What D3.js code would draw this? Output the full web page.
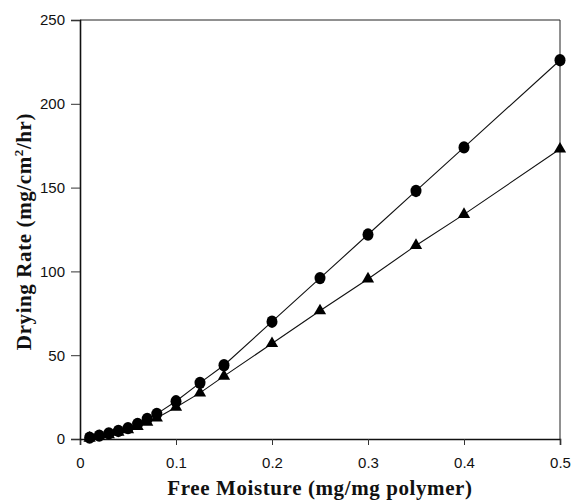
<!DOCTYPE html>
<html>
<head>
<meta charset="utf-8">
<script src="https://cdn.jsdelivr.net/npm/d3@7"></script>
<style>
    body { margin: 0; background: #fff; }
    .tick text { font-family: "Liberation Sans", Arial, sans-serif; font-size: 15px; fill: #111; }
    .title { font-family: "Liberation Serif", "Times New Roman", serif; font-weight: bold; font-size: 21px; letter-spacing: 0.6px; fill: #111; }
</style>
</head>
<body>
<script>
/* Data */
var moisture   = [0.01, 0.02, 0.03, 0.04, 0.05, 0.06, 0.07, 0.08, 0.1, 0.125, 0.15, 0.2, 0.25, 0.3, 0.35, 0.4, 0.5];
var rateCircle = [0.8, 2, 3.3, 4.8, 6.5, 9, 12, 15, 22.5, 33.5, 44, 70, 96, 122, 148, 174, 226];
var rateTri    = [0.5, 1.5, 2.5, 4, 5.5, 7.5, 10, 12.5, 19, 27.5, 37.5, 57, 76.5, 95.5, 115.5, 134, 173];
var xTicks     = [0, 0.1, 0.2, 0.3, 0.4, 0.5];
var yTicks     = [0, 50, 100, 150, 200, 250];

/* Layout */
var width = 574, height = 501,
    margin = {top: 20, right: 14, bottom: 62, left: 80};

var svg = d3.select("body").append("svg")
    .attr("width", width)
    .attr("height", height);

var x = d3.scaleLinear().domain([0, 0.5]).range([margin.left, width - margin.right]);
var y = d3.scaleLinear().domain([0, 250]).range([height - margin.bottom, margin.top]);

// Frame (top & right)
svg.append("path")
    .attr("d", "M" + x(0) + "," + y(250) + "H" + x(0.5) + "V" + y(0))
    .attr("fill", "none")
    .attr("stroke", "#222")
    .attr("stroke-width", 1);

// Axes
var xAxis = svg.append("g")
    .attr("transform", "translate(0," + y(0) + ")")
    .call(d3.axisBottom(x).tickValues(xTicks).tickSize(6).tickPadding(12).tickFormat(d3.format("")));

var yAxis = svg.append("g")
    .attr("transform", "translate(" + x(0) + ",0)")
    .call(d3.axisLeft(y).tickValues(yTicks).tickSize(9).tickPadding(6));

[xAxis, yAxis].forEach(function (g) {
    g.select(".domain").attr("stroke", "#111").attr("stroke-width", 1.6);
    g.selectAll(".tick line").attr("stroke", "#333");
});

// Titles
svg.append("text")
    .attr("class", "title")
    .attr("x", (x(0) + x(0.5)) / 2)
    .attr("y", 495)
    .attr("text-anchor", "middle")
    .text("Free Moisture (mg/mg polymer)");

var yt = svg.append("text")
    .attr("class", "title")
    .attr("transform", "translate(31," + ((y(0) + y(250)) / 2 + 2) + ") rotate(-90)")
    .attr("text-anchor", "middle");
yt.append("tspan").text("Drying Rate (mg/cm");
yt.append("tspan").attr("font-size", "13px").attr("dy", -8).text("2");
yt.append("tspan").attr("dy", 8).text("/hr)");

// Series
var line = d3.line().x(function (d) { return x(d[0]); }).y(function (d) { return y(d[1]); });

var circles = moisture.map(function (m, i) { return [m, rateCircle[i]]; });
var tris    = moisture.map(function (m, i) { return [m, rateTri[i]]; });

[circles, tris].forEach(function (s) {
    svg.append("path")
        .datum(s)
        .attr("d", line)
        .attr("fill", "none")
        .attr("stroke", "#111")
        .attr("stroke-width", 1.1);
});

svg.append("g").selectAll("ellipse")
    .data(circles)
    .enter().append("ellipse")
    .attr("cx", function (d) { return x(d[0]); })
    .attr("cy", function (d) { return y(d[1]); })
    .attr("rx", 5.5)
    .attr("ry", 6.2)
    .attr("fill", "#000");

var triSym = d3.symbol().type(d3.symbolTriangle).size(65);
svg.append("g").selectAll("path")
    .data(tris)
    .enter().append("path")
    .attr("d", triSym)
    .attr("transform", function (d) { return "translate(" + x(d[0]) + "," + y(d[1]) + ")"; })
    .attr("fill", "#000");
</script>
</body>
</html>
